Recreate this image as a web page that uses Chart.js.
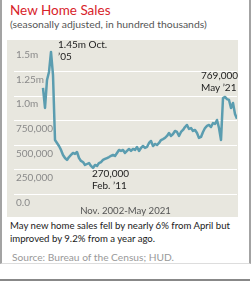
<!DOCTYPE html>
<html>
<head>
<meta charset="utf-8">
<script src="https://cdn.jsdelivr.net/npm/chart.js@4/dist/chart.umd.min.js"></script>
<style>
  html, body { margin: 0; padding: 0; background: #fff; }
  body { width: 251px; height: 289px; position: relative; overflow: hidden; font-family: Lato, sans-serif; }
  .frame { position: absolute; left: 0; top: 0; width: 247px; height: 263px;
           border-left: 2px solid #a3a3a3; border-right: 2px solid #a3a3a3; border-bottom: 1px solid #ddd; }
  .rule  { position: absolute; left: 0; top: 279px; width: 250px; height: 2px; background: #888; }
  .title { position: absolute; left: 10px; top: 2px; font-size: 13.5px; line-height: 16px; color: #d8232a; white-space: nowrap; }
  .sub   { position: absolute; left: 10px; top: 18px; font-size: 10.4px; line-height: 12px; color: #555; white-space: nowrap; }
  .plot  { position: absolute; left: 7px; top: 40px; width: 231px; height: 177px; background: #e8e7df; }
  .note  { position: absolute; left: 10px; top: 220px; width: 238px; font-size: 9.6px; line-height: 12.5px; color: #1a1a1a; }
  .src   { position: absolute; left: 12px; top: 251px; font-size: 10.2px; line-height: 12px; color: #999; white-space: nowrap; }
</style>
</head>
<body>
<div class="frame"></div>
<div class="rule"></div>
<div class="title">New Home Sales</div>
<div class="sub">(seasonally adjusted, in hundred thousands)</div>
<div class="plot"><canvas id="c" width="231" height="177"></canvas></div>
<div class="note">May new home sales fell by nearly 6% from April but improved by 9.2% from a year ago.</div>
<div class="src">Source: Bureau of the Census; HUD.</div>

<script>
// monthly sales, thousands (Nov. 2002 -> May 2021)
const sales = [
  1083, 880, 1164, 1246, 1450, 1215, 554, 524, 493, 453,
  402, 371, 351, 381, 402, 422, 412, 432, 371, 341,
  330, 300, 310, 320, 290, 270, 300, 290, 320, 330,
  351, 361, 371, 381, 392, 402, 392, 422, 453, 443,
  453, 422, 443, 463, 443, 463, 453, 483, 443, 473,
  493, 473, 483, 524, 544, 493, 514, 503, 524, 554,
  564, 575, 595, 625, 595, 615, 646, 636, 595, 636,
  656, 686, 707, 666, 676, 646, 656, 625, 575, 585,
  636, 676, 697, 707, 686, 727, 717, 758, 676, 554,
  981, 992, 971, 961, 880, 931, 819, 769
];
const steps = sales.map((_, i) => i);

const yTickValues = [0, 250, 500, 750, 1000, 1250, 1500];
const yTickLabels = ['0.0', '250,000', '500,000', '750,000', '1.0m', '1.25m', '1.5m'];
const periodLabel = 'Nov. 2002-May 2021';

const peakText   = ['1.45m Oct.', '\u201905'];
const troughText = ['270,000', 'Feb. \u201911'];
const lastText   = ['769,000', 'May \u201921'];

const peakIdx = sales.indexOf(Math.max(...sales));
const troughIdx = sales.indexOf(Math.min(...sales));
const lastIdx = sales.length - 1;

Chart.defaults.font.family = 'Lato';

// text callouts pinned to the peak, the trough and the latest month
const callouts = {
  id: 'callouts',
  afterDatasetsDraw(chart) {
    const { ctx, scales: { x, y } } = chart;
    const put = (idx, lines, dx, dy) => {
      const px = x.getPixelForValue(idx), py = y.getPixelForValue(sales[idx]);
      lines.forEach((t, i) => ctx.fillText(t, px + dx, py + dy + i * 12));
    };
    ctx.save();
    ctx.font = '10px Lato';
    ctx.fillStyle = '#222';
    ctx.textBaseline = 'middle';
    ctx.textAlign = 'left';
    put(peakIdx, peakText, 7, -7);
    put(troughIdx, troughText, -1, 6);
    put(lastIdx, lastText, -36, -43);
    ctx.restore();
  }
};

new Chart(document.getElementById('c').getContext('2d'), {
  type: 'line',
  data: {
    datasets: [{
      data: steps.map(i => ({ x: i, y: sales[i] })),
      borderColor: '#5b9db0',
      borderWidth: 2.5,
      borderJoinStyle: 'round',
      pointRadius: 0,
      tension: 0,
      fill: false
    }]
  },
  options: {
    responsive: false,
    animation: false,
    events: [],
    layout: { padding: { left: 3, right: 1, top: 7, bottom: 0 } },
    plugins: { legend: { display: false }, tooltip: { enabled: false } },
    scales: {
      x: {
        type: 'linear', min: -14.5, max: lastIdx,
        grid: { display: false, drawTicks: false },
        border: { display: false },
        ticks: { display: false },
        title: { display: true, text: periodLabel, color: '#555', font: { size: 9.6 }, padding: { top: 11, bottom: 0 } }
      },
      y: {
        min: 0, max: 1500,
        afterBuildTicks: s => { s.ticks = yTickValues.map(v => ({ value: v })); },
        grid: {
          drawTicks: false,
          lineWidth: 1,
          color: c => c.tick && c.tick.value === 1500 ? 'rgba(0,0,0,0)' : '#ffffff'
        },
        border: { display: false },
        ticks: {
          mirror: true, padding: 2, labelOffset: 8,
          color: '#8a8a8a', font: { size: 10, lineHeight: 1 },
          callback: v => yTickLabels[yTickValues.indexOf(v)]
        }
      }
    }
  },
  plugins: [callouts]
});
</script>
</body>
</html>
